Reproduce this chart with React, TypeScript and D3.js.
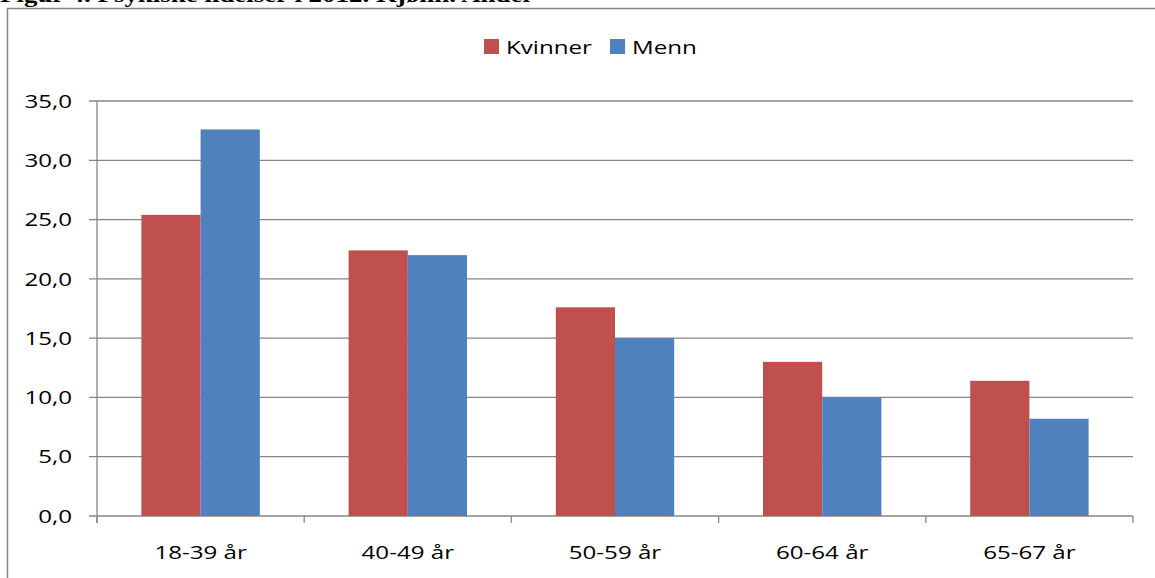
import React from "react";
import * as d3 from "d3";

const categories = ["18-39 år", "40-49 år", "50-59 år", "60-64 år", "65-67 år"];
const seriesNames = ["Kvinner", "Menn"];
const kvinner = [25.4, 22.4, 17.6, 13.0, 11.4];
const menn = [32.6, 22.0, 15.0, 10.0, 8.2];
const yTicks = [0, 5, 10, 15, 20, 25, 30, 35];
const colors = ["#C0504D", "#4F81BD"];

const W = 1155;
const H = 578;
const plot = { left: 97, right: 1133, top: 101, bottom: 516 };
const font = "'Open Sans', 'Noto Sans', sans-serif";
const SX = 1.27; // horizontal stretch of the labels

// Text drawn with a horizontal stretch anchored at (x, y)
function Label(props: { x: number; y: number; anchor?: "start" | "middle" | "end"; dy?: string; children: React.ReactNode }) {
  const { x, y, anchor = "start", dy, children } = props;
  return (
    <text
      transform={`translate(${x},${y}) scale(${SX},1)`}
      textAnchor={anchor}
      dy={dy}
      fontFamily={font}
      fontSize={19}
      fill="#000"
    >
      {children}
    </text>
  );
}

export default function App() {
  const x = d3.scaleBand<string>().domain(categories).range([plot.left, plot.right]);
  const inner = d3
    .scaleBand<string>()
    .domain(seriesNames)
    .range([0, x.bandwidth()])
    .paddingInner(0)
    .paddingOuter(0.75);
  const y = d3.scaleLinear().domain([0, 35]).range([plot.bottom, plot.top]);
  const fmt = (v: number) => d3.format(".1f")(v).replace(".", ",");
  const series = [kvinner, menn];
  const boundaries = [...categories.map((c) => x(c)!), plot.right];

  return (
    <svg width={W} height={H} style={{ position: "absolute", left: 0, top: 0, background: "#fff" }}>
      <text
        x={0}
        y={2}
        textLength={530}
        lengthAdjust="spacingAndGlyphs"
        fontFamily="'Liberation Serif', 'Times New Roman', serif"
        fontWeight="bold"
        fontSize={20}
        fill="#000"
      >
        Figur 4. Psykiske lidelser i 2012. Kjønn. Andel
      </text>
      {/* chart frame */}
      <path d={`M7.5,${H} L7.5,8.5 L${W},8.5`} fill="none" stroke="#868686" strokeWidth={1.5} />

      {/* gridlines and y ticks */}
      {yTicks.map((t) => (
        <g key={t}>
          <line x1={plot.left - 8} x2={plot.right} y1={y(t)} y2={y(t)} stroke="#868686" strokeWidth={1.3} />
          <Label x={plot.left - 25} y={y(t)} anchor="end" dy="0.35em">
            {fmt(t)}
          </Label>
        </g>
      ))}
      <line x1={plot.left} x2={plot.left} y1={plot.top} y2={plot.bottom + 7} stroke="#868686" strokeWidth={1.3} />
      {boundaries.map((b, i) => (
        <line key={i} x1={b} x2={b} y1={plot.bottom} y2={plot.bottom + 7} stroke="#868686" strokeWidth={1.3} />
      ))}

      {/* bars */}
      {categories.map((c, ci) => (
        <g key={c}>
          {seriesNames.map((s, si) => (
            <rect
              key={s}
              x={x(c)! + inner(s)!}
              y={y(series[si][ci])}
              width={inner.bandwidth()}
              height={plot.bottom - y(series[si][ci])}
              fill={colors[si]}
            />
          ))}
          <Label x={x(c)! + x.bandwidth() / 2} y={559} anchor="middle">
            {c}
          </Label>
        </g>
      ))}

      {/* legend */}
      {seriesNames.map((s, i) => {
        const lx = [484, 610][i];
        return (
          <g key={s}>
            <rect x={lx} y={39} width={15} height={15} fill={colors[i]} />
            <Label x={lx + 22} y={47} dy="0.35em">
              {s}
            </Label>
          </g>
        );
      })}
    </svg>
  );
}
